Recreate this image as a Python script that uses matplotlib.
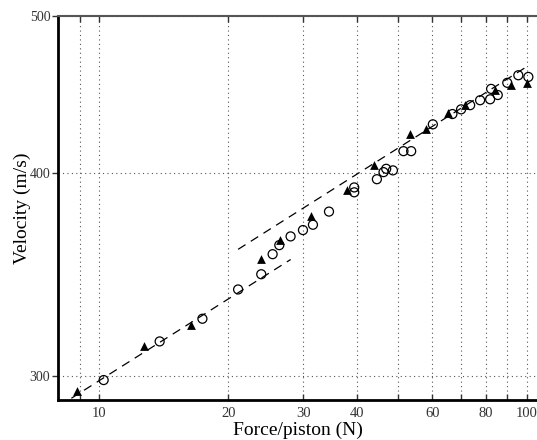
import numpy as np
import matplotlib
matplotlib.use('Agg')
import matplotlib.pyplot as plt
from matplotlib.ticker import FixedLocator, FixedFormatter, NullLocator

plt.rcParams['font.family'] = ['Liberation Serif', 'DejaVu Serif']

# measured points: force per piston (N), velocity (m/s)
tri_force = [8.84, 12.74, 16.38, 23.86, 26.48, 31.23, 37.91, 43.75, 53.1,
             58.07, 65.48, 71.78, 84.03, 91.6, 99.8]
tri_vel = [293.7, 313.2, 322.3, 354.1, 363.8, 376.4, 390.6, 404.6, 422.7,
           425.8, 435.4, 440.6, 450.4, 453.1, 454.3]

circ_force = [10.23, 13.83, 17.41, 21.1, 23.9, 25.41, 26.34, 27.99, 29.92,
              31.57, 34.42, 39.43, 39.43, 44.55, 46.17, 46.84, 48.56, 51.4,
              53.58, 60.21, 66.9, 70.1, 73.6, 77.66, 81.96, 82.4, 85.4,
              89.9, 95.4, 100.7]
circ_vel = [298.3, 315.1, 325.4, 339.2, 346.6, 356.6, 361.2, 365.7, 369.0,
            371.8, 378.8, 392.0, 389.3, 396.6, 400.6, 402.5, 401.6, 412.7,
            412.7, 428.7, 435.0, 437.9, 440.5, 443.6, 444.2, 450.8, 446.9,
            454.7, 459.6, 458.5]

# power-law fits V = a * F^(1/6): (a, F_start, F_end)
fit_low = (203.1, 7.5, 28.0)
fit_high = (216.0, 21.1, 100.0)
fit_exp = 1 / 6

xticks = [10, 20, 30, 40, 60, 80, 100]
xgrid = [9, 10, 20, 30, 40, 50, 60, 70, 80, 90, 100]
yticks = [300, 400, 500]

fig = plt.figure(figsize=(5.37, 4.40), dpi=100)
ax = fig.add_axes([0.108, 0.091, 0.892, 0.873])
ax.set_xscale('log')
ax.set_yscale('log')

for a, f0, f1 in (fit_low, fit_high):
    f = np.array([f0, f1])
    ax.plot(f, a * f ** fit_exp, color='black', lw=0.9, ls=(0, (7, 5)), zorder=2)

ax.scatter(circ_force, circ_vel, s=42, facecolors='none', edgecolors='black',
           linewidths=0.9, zorder=3)
ax.scatter(tri_force, tri_vel, s=40, marker='^', color='black', linewidths=0,
           zorder=4)

ax.set_xlim(8.0, 105.5)
ax.set_ylim(290, 500)

ax.xaxis.set_major_locator(FixedLocator(xgrid))
ax.xaxis.set_major_formatter(FixedFormatter(
    [str(v) if v in xticks else '' for v in xgrid]))
ax.xaxis.set_minor_locator(NullLocator())
ax.yaxis.set_major_locator(FixedLocator(yticks))
ax.yaxis.set_major_formatter(FixedFormatter([str(v) for v in yticks]))
ax.yaxis.set_minor_locator(NullLocator())

ax.grid(True, which='major', color='#555555', ls=(0, (1, 3)), lw=0.8)
ax.tick_params(axis='x', direction='in', top=True, length=4, width=1,
               labelsize=10.5, colors='#333333', pad=5)
ax.tick_params(axis='y', direction='out', length=4, width=1,
               labelsize=10, colors='#333333', pad=1.5)

ax.spines['left'].set_linewidth(2)
ax.spines['bottom'].set_linewidth(2)
ax.spines['top'].set_linewidth(1.5)
ax.spines['top'].set_color('#555555')
ax.spines['right'].set_visible(False)

ax.set_xlabel('Force/piston (N)', fontsize=14, labelpad=1)
ax.set_ylabel('Velocity (m/s)', fontsize=14, labelpad=-1)

fig.savefig('out.png', dpi=100)
